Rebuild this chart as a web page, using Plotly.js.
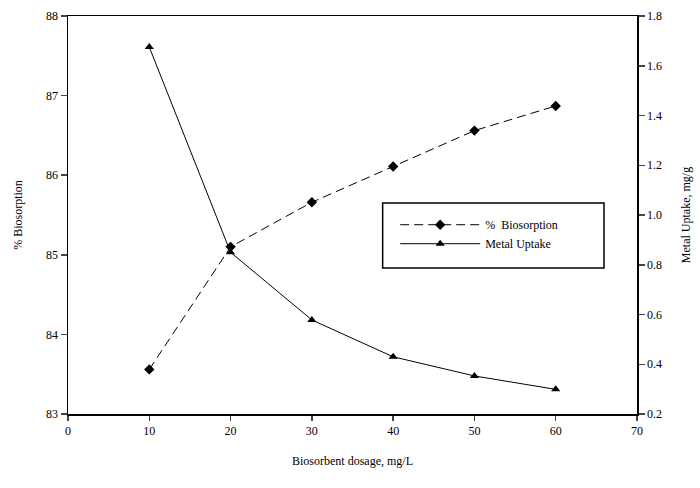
<!DOCTYPE html>
<html>
<head>
<meta charset="utf-8">
<script src="https://cdn.plot.ly/plotly-3.0.1.min.js"></script>
<style>html,body{margin:0;padding:0;background:#fff;}#chart{width:700px;height:488px;}</style>
</head>
<body>
<div id="chart"></div>
<script>
var dosage = [10, 20, 30, 40, 50, 60];
var biosorption = [83.56, 85.1, 85.66, 86.11, 86.56, 86.87];
var metalUptake = [1.675, 0.85, 0.578, 0.43, 0.353, 0.299];
var xTicks = [0, 10, 20, 30, 40, 50, 60, 70];
var yTicks = [83, 84, 85, 86, 87, 88];
var y2Ticks = [0.2, 0.4, 0.6, 0.8, 1.0, 1.2, 1.4, 1.6, 1.8];
var y2TickText = ['0.2', '0.4', '0.6', '0.8', '1.0', '1.2', '1.4', '1.6', '1.8'];

var serif = 'Liberation Serif, Times New Roman, serif';

var traces = [
  {
    x: dosage, y: biosorption, name: '%  Biosorption', type: 'scatter', mode: 'lines+markers',
    line: {color: '#000', width: 1, dash: '9px,5px'},
    marker: {symbol: 'diamond', size: 8, color: '#000'},
    yaxis: 'y'
  },
  {
    x: dosage, y: metalUptake, name: 'Metal Uptake', type: 'scatter', mode: 'lines+markers',
    line: {color: '#000', width: 1},
    marker: {symbol: 'triangle-up', size: 8, color: '#000'},
    yaxis: 'y2'
  }
];

var layout = {
  width: 700, height: 488,
  margin: {l: 68, r: 63, t: 16, b: 74, pad: 0},
  paper_bgcolor: '#fff', plot_bgcolor: '#fff',
  font: {family: serif, size: 12, color: '#000'},
  showlegend: true,
  legend: {
    x: 0.575, y: 0.512, xanchor: 'left', yanchor: 'top',
    bgcolor: 'rgba(0,0,0,0)', borderwidth: 0,
    font: {family: serif, size: 12, color: '#000'},
    itemwidth: 80, tracegroupgap: 0
  },
  xaxis: {
    range: [0, 70], tickvals: xTicks, ticks: 'outside', ticklen: 5, tickwidth: 1.5,
    showline: true, linecolor: '#000', linewidth: 1.5, mirror: true,
    showgrid: false, zeroline: false,
    tickfont: {family: serif, size: 12},
    title: {text: 'Biosorbent dosage, mg/L', font: {family: serif, size: 12}, standoff: 19}
  },
  yaxis: {
    range: [83, 88], tickvals: yTicks, ticks: 'outside', ticklen: 6, tickwidth: 1.5,
    showline: true, linecolor: '#000', linewidth: 1.5,
    showgrid: false, zeroline: false,
    tickfont: {family: serif, size: 12},
    title: {text: '% Biosorption', font: {family: serif, size: 12}, standoff: 21}
  },
  yaxis2: {
    range: [0.2, 1.8], tickvals: y2Ticks, ticktext: y2TickText, overlaying: 'y', side: 'right',
    ticks: 'outside', ticklen: 6, tickwidth: 1.5,
    showline: true, linecolor: '#000', linewidth: 1.5,
    showgrid: false, zeroline: false,
    tickfont: {family: serif, size: 12},
    title: {text: 'Metal Uptake, mg/g', font: {family: serif, size: 12}, standoff: 20}
  },
  shapes: [
    {type: 'rect', xref: 'paper', yref: 'paper', x0: 0.553, x1: 0.942, y0: 0.367, y1: 0.530,
     line: {color: '#000', width: 1.5}, fillcolor: 'rgba(0,0,0,0)'}
  ]
};

Plotly.newPlot('chart', traces, layout, {displayModeBar: false, staticPlot: true});
</script>
</body>
</html>
